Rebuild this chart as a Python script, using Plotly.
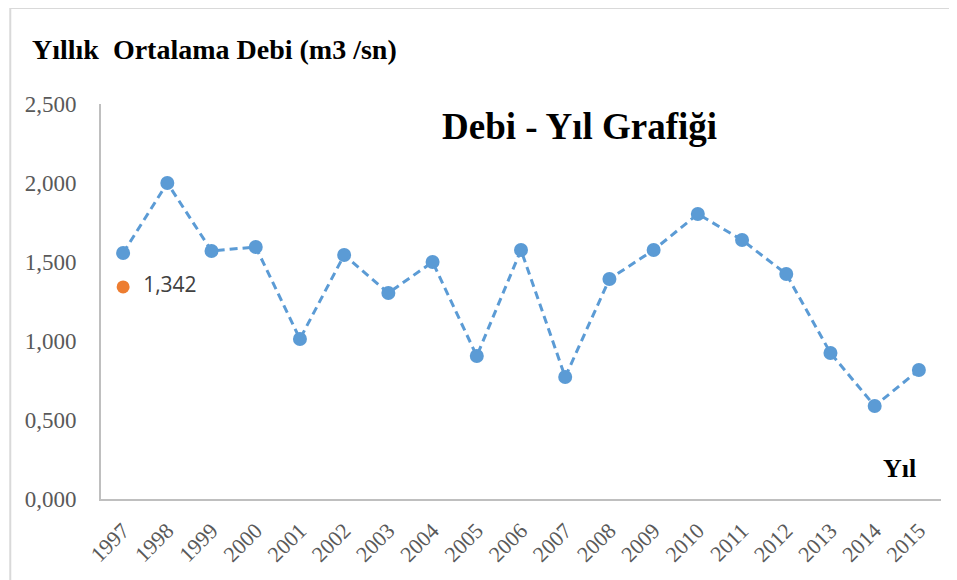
"""Debi - Yıl grafiği (yıllık ortalama debi)"""
import plotly.graph_objects as go

years = [str(y) for y in range(1997, 2016)]
debi = [1.557, 2.000, 1.570, 1.595, 1.013, 1.544, 1.304, 1.500, 0.905, 1.576,
        0.772, 1.392, 1.576, 1.804, 1.639, 1.424, 0.924, 0.589, 0.816]
ortalama_yil = ["1997"]
ortalama = [1.342]
y_ticks = [0, 0.5, 1.0, 1.5, 2.0, 2.5]

BLUE = '#5b9bd5'
ORANGE = '#ed7d31'
SERIF = 'Liberation Serif'

fig = go.Figure()

fig.add_trace(go.Scatter(
    x=years,
    y=debi,
    mode='lines+markers',
    line=dict(color=BLUE, width=3, dash='8px,5px'),
    marker=dict(size=14, color=BLUE),
    showlegend=False
))

fig.add_trace(go.Scatter(
    x=ortalama_yil,
    y=ortalama,
    mode='markers+text',
    marker=dict(size=13, color=ORANGE),
    texttemplate='  %{y:.3f}',
    textposition='middle right',
    textfont=dict(family='Open Sans', size=21, color='#404040'),
    showlegend=False
))

# cerceve (sol ve ust kenar)
fig.add_shape(type='line', xref='paper', yref='paper',
              x0=-0.108, x1=-0.108, y0=1.243, y1=-0.25,
              line=dict(color='#d9d9d9', width=2))
fig.add_shape(type='line', xref='paper', yref='paper',
              x0=-0.108, x1=1.05, y0=1.243, y1=1.243,
              line=dict(color='#d9d9d9', width=2))

fig.add_annotation(text='Yıllık  Ortalama Debi (m3 /sn)', xref='paper', yref='paper',
                   x=-0.084, y=1.137, xanchor='left', yanchor='middle', showarrow=False,
                   font=dict(family=SERIF, size=28, color='#000000', weight='bold'))
fig.add_annotation(text='Debi - Yıl Grafiği', xref='paper', yref='paper',
                   x=0.570, y=0.942, xanchor='center', yanchor='middle', showarrow=False,
                   font=dict(family=SERIF, size=37, color='#000000', weight='bold'))
fig.add_annotation(text='Yıl', xref='paper', yref='paper',
                   x=0.951, y=0.078, xanchor='center', yanchor='middle', showarrow=False,
                   font=dict(family=SERIF, size=26, color='#000000', weight='bold'))

fig.update_layout(
    width=957,
    height=580,
    separators=',.',
    plot_bgcolor='#ffffff',
    paper_bgcolor='#ffffff',
    margin=dict(l=93, r=24, t=96, b=89),
    xaxis=dict(
        type='category',
        range=[-0.5, 18.5],
        showgrid=False,
        zeroline=False,
        showline=True,
        linecolor='#bfbfbf',
        linewidth=2,
        ticks='',
        tickangle=-45,
        ticklabelstandoff=8,
        tickfont=dict(family=SERIF, size=22, color='#595959')
    ),
    yaxis=dict(
        range=[0, 2.5],
        tickvals=y_ticks,
        tickformat='.3f',
        showgrid=False,
        zeroline=False,
        showline=True,
        linecolor='#bfbfbf',
        linewidth=2,
        ticks='',
        ticklabelstandoff=18,
        tickfont=dict(family=SERIF, size=23, color='#595959')
    )
)

fig.write_html("out.html")
